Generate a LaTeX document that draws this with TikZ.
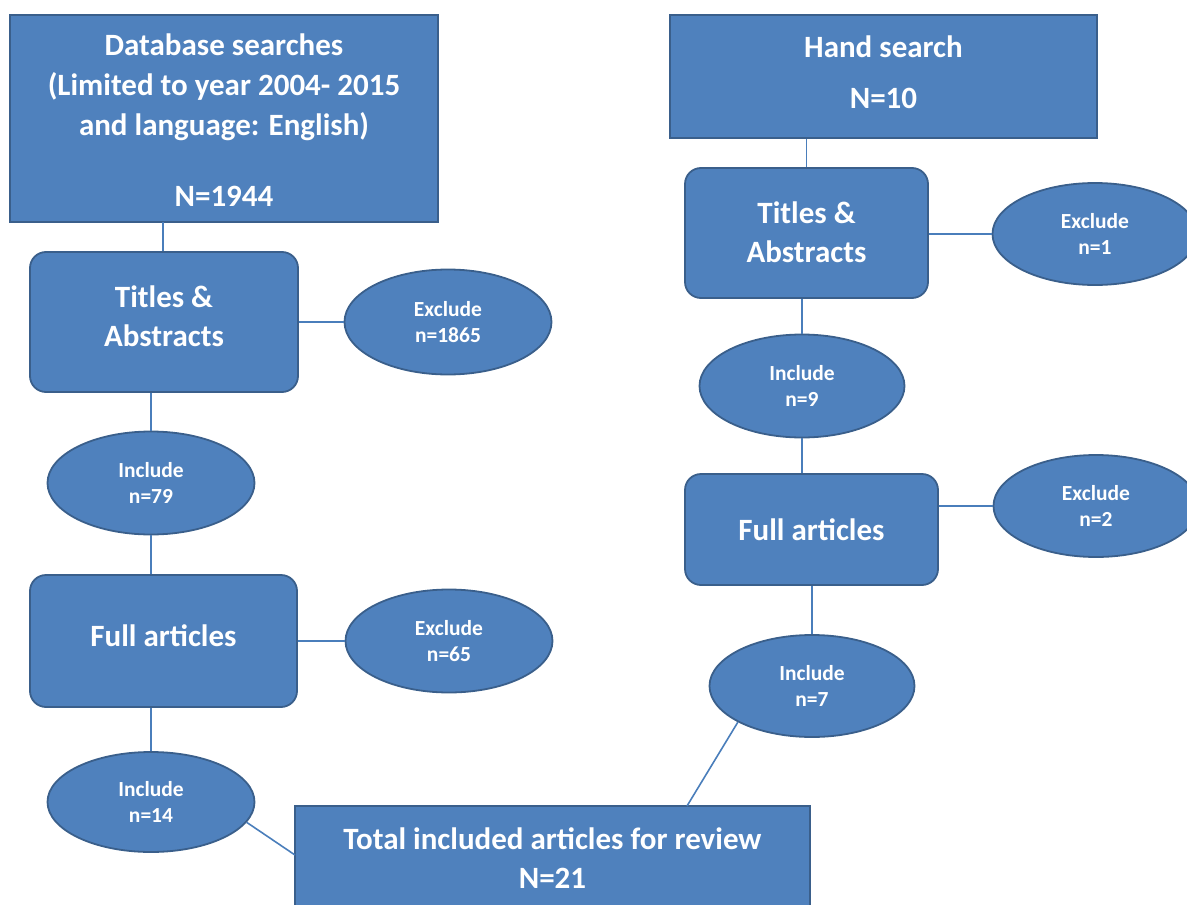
\documentclass[tikz,border=0pt]{standalone}
\usepackage{fontspec}
\setmainfont{Carlito}
\usetikzlibrary{shapes.geometric}
\definecolor{fillb}{HTML}{4F81BD}
\definecolor{bordb}{HTML}{3A5F8B}
\definecolor{connb}{HTML}{4A7EBB}
\tikzset{
  x=1pt,y=-1pt,
  boxs/.style={rectangle,draw=bordb,fill=fillb,line width=1.8pt,inner sep=0pt},
  rboxs/.style={boxs,rounded corners=16pt},
  ells/.style={ellipse,draw=bordb,fill=fillb,line width=1.8pt,inner sep=0pt,
    text=white,font=\fontsize{21.5}{25.5}\selectfont\bfseries,align=center},
  bigt/.style={text=white,font=\fontsize{31}{39}\selectfont\bfseries,align=center,inner sep=0pt},
  conn/.style={draw=connb,line width=1.6pt}
}
\begin{document}
\begin{tikzpicture}
\useasboundingbox (0,0) rectangle (1187,905);
\clip (0,0) rectangle (1187,905);
% left column
\node[boxs,minimum width=428pt,minimum height=207pt] (db) at (224,118.5) {};
\node[bigt,font=\fontsize{31}{40}\selectfont\bfseries] (dbt) at (224,87) {Database searches\\(Limited to year 2004- 2015\\and language: English)};
\node[bigt] (dbn) at (224,196) {N=1944};
\node[rboxs,minimum width=268pt,minimum height=140pt] (ta1) at (164,322) {};
\node[bigt] (ta1t) at (164,316) {Titles \&\\Abstracts};
\node[ells,minimum width=207pt,minimum height=105pt] (ex1865) at (448,322) {Exclude\\n=1865};
\node[ells,minimum width=207pt,minimum height=103pt] (inc79) at (151,483) {Include\\n=79};
\node[rboxs,minimum width=267pt,minimum height=132pt] (fa1) at (163.5,641) {};
\node[bigt] (fa1t) at (163.5,636) {Full articles};
\node[ells,minimum width=207pt,minimum height=103pt] (ex65) at (449,641) {Exclude\\n=65};
\node[ells,minimum width=207pt,minimum height=100pt] (inc14) at (151,802) {Include\\n=14};
% total
\node[boxs,minimum width=515pt,minimum height=130pt] (tot) at (552.5,871) {};
\node[bigt] (tott) at (552.5,858) {Total included articles for review\\N=21};
% right column
\node[boxs,minimum width=427pt,minimum height=123pt] (hs) at (883.5,76.5) {};
\node[bigt,font=\fontsize{31}{51}\selectfont\bfseries] (hst) at (883.5,72.5) {Hand search\\N=10};
\node[rboxs,minimum width=243pt,minimum height=130pt] (ta2) at (806.5,233) {};
\node[bigt] (ta2t) at (806.5,232) {Titles \&\\Abstracts};
\node[ells,minimum width=205pt,minimum height=102pt] (ex1) at (1095,234) {Exclude\\n=1};
\node[ells,minimum width=205pt,minimum height=103pt] (inc9) at (802,386) {Include\\n=9};
\node[rboxs,minimum width=253pt,minimum height=111pt] (fa2) at (811.5,529.5) {};
\node[bigt] (fa2t) at (811.5,530) {Full articles};
\node[ells,minimum width=205pt,minimum height=102pt] (ex2) at (1096,506) {Exclude\\n=2};
\node[ells,minimum width=205pt,minimum height=102pt] (inc7) at (812,686) {Include\\n=7};
\coordinate (totin) at (295,855);
\coordinate (totout) at (687,806);
% connectors
\draw[conn] (163,222) coordinate (c1) -- (c1 |- ta1.north);
\draw[conn] (inc79.north |- ta1.south) -- (inc79.north);
\draw[conn] (ta1.east |- ex1865.west) -- (ex1865.west);
\draw[conn] (inc79.south) -- (inc79.south |- fa1.north);
\draw[conn] (fa1.east |- ex65.west) -- (ex65.west);
\draw[conn] (inc14.north |- fa1.south) -- (inc14.north);
\draw[conn] (inc14.-12) -- (totin);
\draw[conn] (inc7.206) -- (totout);
\draw[conn] (ta2.north |- hs.south) -- (ta2.north);
\draw[conn] (ta2.east |- ex1.west) -- (ex1.west);
\draw[conn] (inc9.north |- ta2.south) -- (inc9.north);
\draw[conn] (inc9.south) -- (inc9.south |- fa2.north);
\draw[conn] (fa2.east |- ex2.west) -- (ex2.west);
\draw[conn] (inc7.north |- fa2.south) -- (inc7.north);
\end{tikzpicture}
\end{document}
